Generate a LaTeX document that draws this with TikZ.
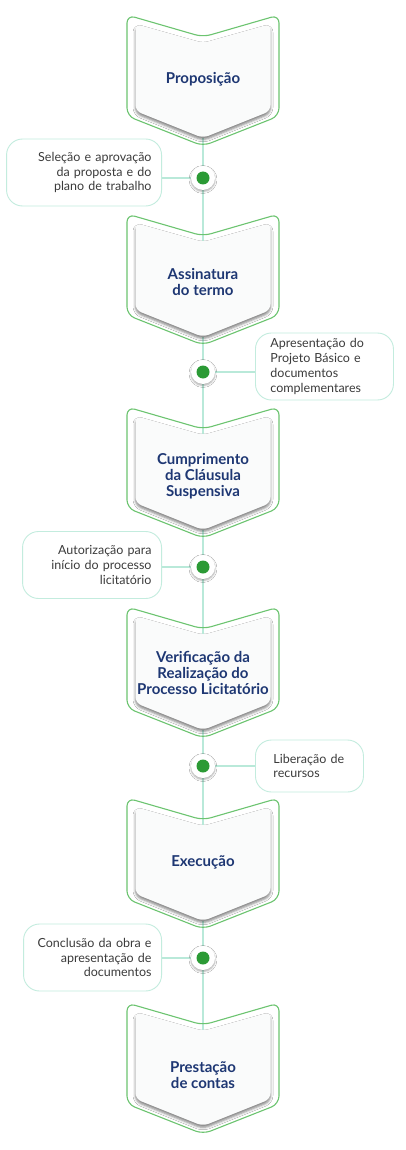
\documentclass[tikz,border=0pt]{standalone}
\usepackage{fontspec}
\setmainfont{Lato}
\usepackage{xcolor}
\usepackage{tikz}
\usetikzlibrary{positioning,calc,shadows.blur,backgrounds}

\definecolor{stagegreen}{RGB}{108,196,112}
\definecolor{stagefill}{RGB}{250,251,251}
\definecolor{linkmint}{RGB}{185,233,217}
\definecolor{bubblemint}{RGB}{195,236,222}
\definecolor{dotgreen}{RGB}{43,154,53}
\definecolor{navy}{RGB}{30,55,115}
\definecolor{textgray}{RGB}{59,59,59}

\tikzset{
  stageout/.style={draw=stagegreen, line width=1.1pt, rounded corners=8pt},
  stagein/.style={fill=stagefill, rounded corners=6pt,
    blur shadow={shadow xshift=0pt, shadow yshift=-2.5pt, shadow blur radius=2.5pt, shadow opacity=50}},
  stagetext/.style={text=navy, font=\bfseries\fontsize{15}{16}\selectfont, align=center},
  bubble/.style={draw=bubblemint, fill=white, line width=0.9pt, rounded corners=16pt,
    minimum height=67pt, inner xsep=10pt, font=\fontsize{12.5}{14.7}\selectfont, text=textgray},
  dot/.style={circle, fill=white, minimum size=24pt, inner sep=0pt,
    blur shadow={shadow xshift=0pt, shadow yshift=-1.5pt, shadow blur radius=2pt, shadow opacity=35},
    path picture={\fill[dotgreen] (path picture bounding box.center) circle (6.5pt);}},
  link/.style={draw=linkmint, line width=1.3pt}
}

% #1 name, #2 top, #3 text y, #4 text
\newcommand{\stage}[4]{%
  \draw[stageout] (127,#2) -- (203,#2+22) -- (279,#2) -- (279,#2+101) -- (203,#2+131) -- (127,#2+101) -- cycle;
  \fill[stagein] (135.5,#2+9) -- (203,#2+28) -- (270.5,#2+9) -- (270.5,#2+96) -- (203,#2+123) -- (135.5,#2+96) -- cycle;
  \coordinate (#1-in) at (203,#2+28);
  \coordinate (#1-out) at (203,#2+123);
  \node[stagetext] (#1) at (203,#3) {#4};
}

\begin{document}
\begin{tikzpicture}[x=1pt,y=-1pt]
\useasboundingbox (0,0) rectangle (405,1150);

\stage{prop}{15}{79}{Proposição}
\stage{assin}{214}{282}{Assinatura\\do termo}
\stage{cumpr}{407}{476}{Cumprimento\\da Cláusula\\Suspensiva}
\stage{verif}{607}{673}{Verificação da\\Realização do\\Processo Licitatório}
\stage{exec}{798}{862}{Execução}
\stage{prest}{1003}{1075}{Prestação\\de contas}

\node[dot] (sel) at (203,178) {};
\node[dot] (apres) at (203,372) {};
\node[dot] (autor) at (203,567) {};
\node[dot] (liber) at (203,766) {};
\node[dot] (concl) at (203,958) {};

\node[bubble, anchor=east, text width=135pt, align=right] (selb) at (162,172.5) {Seleção e aprovação\\da proposta e do\\plano de trabalho};
\node[bubble, anchor=west, text width=108pt, align=left, inner xsep=15pt] (apresb) at (255,366.5) {Apresentação do\\Projeto Básico e\\documentos\\complementares};
\node[bubble, anchor=east, text width=119pt, align=right] (autorb) at (162,565) {Autorização para\\início do processo\\licitatório};
\node[bubble, anchor=west, text width=72pt, align=left, inner xsep=18pt, minimum height=52pt] (liberb) at (255,766) {Liberação de\\recursos};
\node[bubble, anchor=east, text width=118pt, align=right] (conclb) at (162,957.5) {Conclusão da obra e\\apresentação de\\documentos};

\begin{scope}[on background layer]
  \fill[white] (0,0) rectangle (405,1150);
  \draw[link] (prop-out) -- (sel) -- (assin-in);
  \draw[link] (assin-out) -- (apres) -- (cumpr-in);
  \draw[link] (cumpr-out) -- (autor) -- (verif-in);
  \draw[link] (verif-out) -- (liber) -- (exec-in);
  \draw[link] (exec-out) -- (concl) -- (prest-in);
  \draw[link] (sel) -- (sel -| selb.east);
  \draw[link] (apres) -- (apres -| apresb.west);
  \draw[link] (autor) -- (autor -| autorb.east);
  \draw[link] (liber) -- (liber -| liberb.west);
  \draw[link] (concl) -- (concl -| conclb.east);
\end{scope}
\end{tikzpicture}
\end{document}
